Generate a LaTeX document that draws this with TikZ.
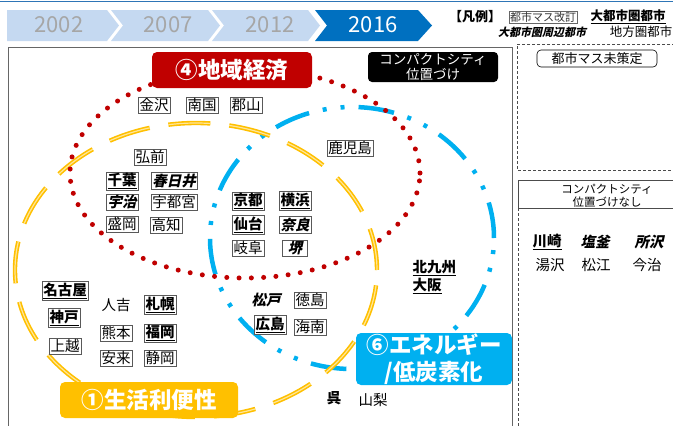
\documentclass[tikz,border=0pt]{standalone}
\usepackage{fontspec}
\setmainfont{Noto Sans CJK JP}
\newfontfamily\slantjp{Noto Sans CJK JP}[FakeSlant=0.22, BoldFeatures={FakeSlant=0.22}]
\definecolor{dred}{HTML}{C00000}
\definecolor{ylw}{HTML}{FFC000}
\definecolor{ylwl}{HTML}{FFE699}
\definecolor{cyanb}{HTML}{00B0F0}
\definecolor{chevl}{HTML}{C5D9F1}
\definecolor{chevd}{HTML}{0070C0}
\definecolor{topline}{HTML}{2E75B6}
\definecolor{yrtext}{HTML}{A6A6A6}
\newcommand\metro[1]{\textbf{\underline{#1}}}
\newcommand\subur[1]{{\slantjp\bfseries #1}}
\begin{document}
\begin{tikzpicture}[x=1pt,y=-1pt,
  city/.style={font=\fontsize{14.5}{16}\selectfont, inner sep=1.3pt},
  cbox/.style={city, draw=black!65, line width=0.6pt, fill=white},
  tagbox/.style={rounded corners=5pt, text=white, font=\fontsize{22.5}{27}\selectfont\bfseries, align=center},
  yr/.style={font=\fontsize{22}{24}\selectfont, text=yrtext},
  panel/.style={draw=black!60, line width=1pt},
  dpanel/.style={draw=black!70, line width=0.6pt, dash pattern=on 3pt off 2pt}
]
\useasboundingbox (0,0) rectangle (673,426);
% top line and chevrons
\draw[topline, line width=1.5pt] (0,1.5) -- (673,1.5);
\fill[chevl] (7,10) -- (107,10) -- (119,25.5) -- (107,41) -- (7,41) -- cycle;
\fill[chevl] (111,10) -- (208,10) -- (220,25.5) -- (208,41) -- (111,41) -- (123,25.5) -- cycle;
\fill[chevl] (212,10) -- (308,10) -- (320,25.5) -- (308,41) -- (212,41) -- (224,25.5) -- cycle;
\fill[chevd] (315,10) -- (418,10) -- (432,25.5) -- (418,41) -- (315,41) -- (327,25.5) -- cycle;
\node[yr] (y2002) at (59,25) {2002};
\node[yr] (y2007) at (168,25) {2007};
\node[yr] (y2012) at (270,25) {2012};
\node[yr, text=white] (y2016) at (373,25) {2016};
% legend
\node[font=\fontsize{13}{14}\selectfont\bfseries] (hanrei) at (475,17) {【凡例】};
\node[draw=black!60, line width=0.5pt, inner sep=1pt, font=\fontsize{11}{12}\selectfont, text=black!80] (legbox) at (543,17) {都市マス改訂};
\node[font=\fontsize{12.5}{14}\selectfont] (legmetro) at (628,17) {\metro{大都市圏都市}};
\node[font=\fontsize{11}{12}\selectfont] (legsub) at (542,32) {\subur{大都市圏周辺都市}};
\node[font=\fontsize{12.5}{14}\selectfont] (legloc) at (641,32) {地方圏都市};
% panels
\draw[panel] (8,440) -- (8,47) -- (512,47) -- (512,440);
\draw[dpanel] (690,44) -- (517,44) -- (517,170) -- (690,170);
\draw[draw=black!70, line width=0.6pt] (690,180) -- (518,180) -- (518,208) -- (690,208);
\draw[dpanel] (518,208) -- (518,440);
% ellipses
\draw[cyanb, line width=4.5pt, dash pattern=on 36pt off 14pt on 4pt off 14pt on 4pt off 14pt] (352,238) ellipse [x radius=142pt, y radius=131pt];
\draw[ylw, line width=1.6pt, double=ylwl, double distance=1.2pt, dash pattern=on 42pt off 19pt] (196,270) ellipse [x radius=181pt, y radius=147pt];
\draw[dred, line width=5pt, line cap=round, dash pattern=on 0pt off 12.3pt] (245,173) ellipse [x radius=175pt, y radius=105pt];
% tag boxes
\node[tagbox, fill=dred, minimum width=160pt, minimum height=36pt] (chiiki) at (232,70) {④地域経済};
\node[rounded corners=4pt, fill=black, text=white, font=\fontsize{13.5}{14.5}\selectfont, align=center, minimum width=130pt, minimum height=30pt, inner sep=0pt] (compact) at (433,67) {コンパクトシティ\\位置づけ};
\node[tagbox, fill=ylw, minimum width=178pt, minimum height=36pt] (seikatsu) at (149,400) {①生活利便性};
\node[tagbox, fill=cyanb, minimum width=156pt, minimum height=52pt, inner sep=0pt, font=\fontsize{22.5}{27}\selectfont\bfseries] (energy) at (434,359) {⑥エネルギー\\/低炭素化};
% cities
\node[cbox] (kanazawa) at (154,105) {金沢};
\node[cbox] (nankoku) at (202,105) {南国};
\node[cbox] (koriyama) at (246,105) {郡山};
\node[cbox] (hirosaki) at (150,157) {弘前};
\node[cbox] (chiba) at (122,181) {\metro{千葉}};
\node[cbox] (kasugai) at (174,181) {\subur{春日井}};
\node[cbox] (uji) at (122,202) {\subur{宇治}};
\node[cbox] (utsunomiya) at (174,202) {宇都宮};
\node[cbox] (morioka) at (122,224) {盛岡};
\node[cbox] (kochi) at (166,225) {高知};
\node[cbox] (kagoshima) at (350,148) {鹿児島};
\node[cbox] (kyoto) at (248,201) {\metro{京都}};
\node[cbox] (yokohama) at (295,201) {\metro{横浜}};
\node[cbox] (sendai) at (248,225) {\metro{仙台}};
\node[cbox] (nara) at (295,225) {\subur{奈良}};
\node[cbox] (gifu) at (248,248) {岐阜};
\node[cbox, minimum width=25pt] (sakai) at (295,248) {\subur{堺}};
\node[city, anchor=west] (kitakyushu) at (411,268) {\metro{北九州}};
\node[city, anchor=west] (osaka) at (411,286) {\metro{大阪}};
\node[cbox] (nagoya) at (65,291) {\metro{名古屋}};
\node[cbox] (kobe) at (64,318) {\metro{神戸}};
\node[cbox] (joetsu) at (65,346) {上越};
\node[city] (hitoyoshi) at (116,305) {人吉};
\node[cbox] (sapporo) at (160,305) {\metro{札幌}};
\node[cbox] (kumamoto) at (116,333) {熊本};
\node[cbox] (fukuoka) at (160,333) {\metro{福岡}};
\node[cbox] (yasugi) at (116,358) {安来};
\node[cbox] (shizuoka) at (160,358) {静岡};
\node[city] (matsudo) at (266,300) {\subur{松戸}};
\node[cbox] (tokushima) at (310,300) {徳島};
\node[cbox] (hiroshima) at (270,325) {\metro{広島}};
\node[cbox] (kainan) at (310,327) {海南};
\node[city] (kure) at (334,398) {\textbf{呉}};
\node[city] (yamanashi) at (373,400) {山梨};
% right panel
\node[draw=black, line width=0.6pt, rounded corners=4pt, minimum width=120pt, minimum height=17pt, inner sep=0pt, font=\fontsize{13}{14}\selectfont] (mikettei) at (597,58.5) {都市マス未策定};
\node[font=\fontsize{11.5}{13}\selectfont, align=center] (nashi) at (607,196) {コンパクトシティ\\位置づけなし};
\node[city] (kawasaki) at (547,242) {\metro{川崎}};
\node[city] (shiogama) at (595,242) {\subur{塩釜}};
\node[city] (tokorozawa) at (649,242) {\subur{所沢}};
\node[city] (yuzawa) at (550,265) {湯沢};
\node[city] (matsue) at (596,265) {松江};
\node[city] (imabari) at (647,265) {今治};
\end{tikzpicture}
\end{document}
